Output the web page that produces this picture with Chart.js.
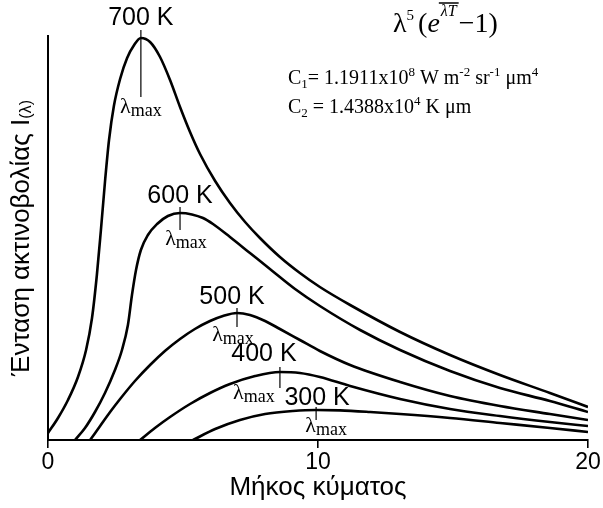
<!DOCTYPE html>
<html>
<head>
<meta charset="utf-8">
<script src="https://cdn.jsdelivr.net/npm/chart.js@4.4.0/dist/chart.umd.min.js"></script>
<style>
  html, body { margin: 0; padding: 0; background: #fff; }
</style>
</head>
<body>
<canvas id="planck" width="603" height="508"></canvas>
<script>
// Καμπύλες ακτινοβολίας μέλανος σώματος (σχηματικές), λ σε μm
const temps = ['700 K', '600 K', '500 K', '400 K', '300 K'];
const xTicks = [0, 10, 20];

const lam700 = [0, 0.37, 0.74, 1.11, 1.41, 1.63, 1.81, 1.96, 2.11, 2.26, 2.44, 2.67, 2.93, 3.19, 3.44, 3.78, 4.15, 4.52, 4.89, 5.26, 5.63, 6.19, 6.74, 7.3, 7.85, 8.59, 9.33, 10.07, 11.19, 13.04, 14.89, 16.74, 18.59, 20];
const int700 = [1.75, 5.5, 10, 15.75, 22.5, 30.5, 41.25, 52.5, 64.5, 75, 83.5, 90.25, 95.5, 98.75, 100.5, 99.5, 95.75, 90, 83.25, 77, 71.5, 64.75, 59.25, 54.5, 50.5, 45.75, 41.75, 38.25, 33.75, 27, 21.25, 16.25, 11.75, 8.25];

const lam600 = [1, 1.37, 1.74, 2.11, 2.48, 2.74, 2.96, 3.11, 3.26, 3.44, 3.7, 4.04, 4.44, 4.89, 5.33, 5.74, 6.11, 6.74, 7.48, 8.22, 9.15, 10.07, 11.56, 13.04, 14.89, 16.74, 18.59, 20];
const int600 = [0, 3, 7, 11.75, 17.5, 22.5, 28.75, 36.25, 42.5, 47.5, 51.25, 54, 56, 56.75, 56.4, 55.5, 54, 50.75, 46.75, 42.75, 37.75, 33.5, 27.5, 22.5, 17.25, 13, 9.75, 7];

const lam500 = [1.56, 1.93, 2.3, 2.67, 3.22, 3.78, 4.33, 4.89, 5.44, 6, 6.48, 7, 7.48, 8.04, 8.59, 9.33, 10.07, 11.19, 13.04, 14.89, 16.74, 18.59, 20];
const int500 = [0, 3.5, 7, 10.25, 14.75, 18.75, 22.25, 25.25, 27.75, 29.75, 31, 31.75, 31.25, 29.75, 27.75, 25, 22.25, 18.75, 14.5, 11, 8.5, 6.5, 5];

const lam400 = [3.41, 3.96, 4.52, 5.26, 6, 6.74, 7.67, 8.59, 9.33, 10.07, 11.19, 13.04, 14.89, 16.74, 18.59, 20];
const int400 = [0, 3, 5.75, 9, 11.75, 14, 16, 17, 16.75, 15.75, 13.5, 10.25, 7.75, 6, 4.5, 3.5];

const lam300 = [5.37, 6.19, 7.11, 8.04, 9.07, 9.93, 10.81, 11.93, 13.04, 14.89, 16.74, 18.59, 20];
const int300 = [0, 2.75, 5, 6.5, 7.25, 7.5, 7.4, 7, 6.5, 5.5, 4.25, 3, 2];

const lambdas = [lam700, lam600, lam500, lam400, lam300];
const intensities = [int700, int600, int500, int400, int300];

const toPoints = (xs, ys) => xs.map((x, i) => ({ x: x, y: ys[i] }));

// θέσεις ετικετών γύρω από το μέγιστο κάθε καμπύλης (σε px)
const marks = [
  { lab: [0, -20], tick: [-8, 59], lmax: [0, 69] },
  { lab: [0, -17], tick: [-6, 17], lmax: [6, 26] },
  { lab: [-5, -16], tick: [-5, 14], lmax: [-4, 22] },
  { lab: [-16, -18], tick: [-5, 16], lmax: [-26, 21] },
  { lab: [1, -12], tick: [-3, 10], lmax: [10, 16] }
];

const sans = '"Liberation Sans", Arial, sans-serif';
const serif = '"Liberation Serif", "Times New Roman", serif';

function drawRuns(ctx, x, y, runs) {
  runs.forEach(r => {
    ctx.font = r.font;
    ctx.fillText(r.t, x, y + (r.dy || 0));
    x += ctx.measureText(r.t).width + (r.gap || 0);
  });
  return x;
}

function runsWidth(ctx, runs) {
  let w = 0;
  runs.forEach(r => { ctx.font = r.font; w += ctx.measureText(r.t).width + (r.gap || 0); });
  return w;
}

const annotations = {
  id: 'annotations',
  afterDatasetsDraw(chart) {
    const ctx = chart.ctx;
    const xs = chart.scales.x, ys = chart.scales.y;
    ctx.save();
    ctx.fillStyle = '#000';
    ctx.strokeStyle = '#000';

    chart.data.datasets.forEach((ds, i) => {
      let top = ds.data[0];
      ds.data.forEach(p => { if (p.y > top.y) top = p; });
      const px = xs.getPixelForValue(top.x);
      const py = ys.getPixelForValue(top.y);
      const m = marks[i];

      ctx.lineWidth = 1.2;
      ctx.beginPath();
      ctx.moveTo(px, py + m.tick[0]);
      ctx.lineTo(px, py + m.tick[1]);
      ctx.stroke();

      ctx.font = '25px ' + sans;
      ctx.textAlign = 'center';
      ctx.textBaseline = 'middle';
      ctx.fillText(temps[i], px + m.lab[0], py + m.lab[1]);

      const lr = [
        { t: 'λ', font: '22px ' + serif },
        { t: 'max', font: '18px ' + serif, dy: 3 }
      ];
      ctx.textAlign = 'left';
      ctx.textBaseline = 'alphabetic';
      const w = runsWidth(ctx, lr);
      drawRuns(ctx, px + m.lmax[0] - w / 2, py + m.lmax[1] + 6, lr);
    });

    // τύπος Planck (παρονομαστής) και σταθερές
    ctx.textAlign = 'left';
    ctx.textBaseline = 'alphabetic';
    let x = drawRuns(ctx, 393, 32, [
      { t: 'λ', font: '28px ' + serif },
      { t: '5', font: '15px ' + serif, dy: -12, gap: 4 },
      { t: '(', font: '28px ' + serif },
      { t: 'e', font: 'italic 28px ' + serif }
    ]);
    ctx.font = 'italic 16px ' + serif;
    const supW = ctx.measureText('λT').width;
    ctx.fillText('λT', x + 1, 16);
    ctx.lineWidth = 1.5;
    ctx.beginPath();
    ctx.moveTo(x - 1, 3);
    ctx.lineTo(x + supW + 3, 3);
    ctx.stroke();
    drawRuns(ctx, x + supW + 3, 32, [{ t: '−1)', font: '28px ' + serif }]);

    drawRuns(ctx, 288, 84, [
      { t: 'C', font: '20px ' + serif },
      { t: '1', font: '13px ' + serif, dy: 4 },
      { t: '= 1.1911x10', font: '20px ' + serif },
      { t: '8', font: '13px ' + serif, dy: -8 },
      { t: ' W m', font: '20px ' + serif },
      { t: '-2', font: '13px ' + serif, dy: -8 },
      { t: ' sr', font: '20px ' + serif },
      { t: '-1', font: '13px ' + serif, dy: -8 },
      { t: ' μm', font: '20px ' + serif },
      { t: '4', font: '13px ' + serif, dy: -8 }
    ]);
    drawRuns(ctx, 288, 113, [
      { t: 'C', font: '20px ' + serif },
      { t: '2', font: '13px ' + serif, dy: 4 },
      { t: ' = 1.4388x10', font: '20px ' + serif },
      { t: '4', font: '13px ' + serif, dy: -8 },
      { t: ' K μm', font: '20px ' + serif }
    ]);

    // τίτλος κατακόρυφου άξονα
    ctx.translate(22, 238);
    ctx.rotate(-Math.PI / 2);
    const yt = [
      { t: 'Ένταση ακτινοβολίας I', font: '26px ' + sans },
      { t: '(λ)', font: '16px ' + sans, dy: 5 }
    ];
    ctx.textBaseline = 'middle';
    drawRuns(ctx, -runsWidth(ctx, yt) / 2, 0, yt);
    ctx.restore();
  }
};

const ctx = document.getElementById('planck').getContext('2d');
new Chart(ctx, {
  type: 'line',
  data: {
    datasets: temps.map((t, i) => ({
      label: t,
      data: toPoints(lambdas[i], intensities[i]),
      borderColor: '#000',
      borderWidth: 2.6,
      pointRadius: 0,
      fill: false,
      cubicInterpolationMode: 'monotone'
    }))
  },
  options: {
    responsive: false,
    animation: false,
    layout: { padding: { left: 48, right: 15, top: 36, bottom: 0 } },
    plugins: { legend: { display: false }, tooltip: { enabled: false } },
    scales: {
      x: {
        type: 'linear',
        min: 0,
        max: 20,
        afterBuildTicks: s => { s.ticks = xTicks.map(v => ({ value: v })); },
        afterFit: s => { s.height = 68; },
        ticks: {
          color: '#000',
          padding: 1,
          maxRotation: 0,
          font: { family: sans, size: 23 }
        },
        grid: { drawOnChartArea: false, tickLength: 8, color: '#000', lineWidth: 1.6 },
        border: { color: '#000', width: 2 },
        title: {
          display: true,
          text: 'Μήκος κύματος',
          color: '#000',
          padding: { top: 0, bottom: 5 },
          font: { family: sans, size: 26 }
        }
      },
      y: {
        min: 0,
        max: 101,
        afterFit: s => { s.width = 0; },
        ticks: { display: false },
        grid: { display: false },
        border: { color: '#000', width: 2 }
      }
    }
  },
  plugins: [annotations]
});
</script>
</body>
</html>
